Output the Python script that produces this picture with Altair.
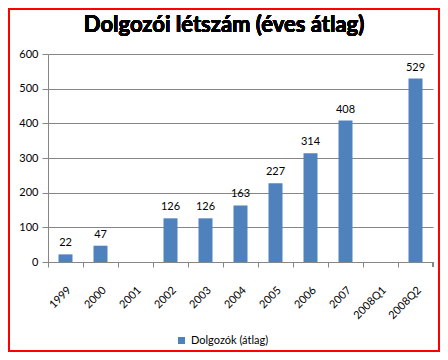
import altair as alt
import pandas as pd

categories = ["1999", "2000", "2001", "2002", "2003", "2004", "2005", "2006", "2007", "2008Q1", "2008Q2"]
values = [22, 47, None, 126, 126, 163, 227, 314, 408, None, 529]
series_name = "Dolgozók (átlag)"
title_text = "Dolgozói létszám (éves átlag)"
y_ticks = [0, 100, 200, 300, 400, 500, 600]

df = pd.DataFrame({"kat": categories, "ertek": values, "sorozat": [series_name] * len(categories)})

W, H = 385, 208
FONT = "Lato"
GRID = "#868686"

x_axis = alt.Axis(labelAngle=-45, bandPosition=0, tickSize=5, tickColor=GRID, domainColor=GRID,
                  labelFont=FONT, labelFontSize=11, labelColor="#000", labelPadding=17, grid=False)
y_axis = alt.Axis(values=y_ticks, tickSize=6, tickColor=GRID, domainColor=GRID, gridColor=GRID,
                  labelFont=FONT, labelFontSize=11, labelColor="#000", labelPadding=4,
                  labelOverlap=False)

x_enc = alt.X("kat:N", sort=categories, title=None,
              scale=alt.Scale(paddingInner=0, paddingOuter=0), axis=x_axis)
y_enc = alt.Y("ertek:Q", title=None, scale=alt.Scale(domain=[0, 600], nice=False), axis=y_axis)

base = alt.Chart(df)

bars = base.mark_bar(size=14).encode(
    x=x_enc, y=y_enc,
    color=alt.Color("sorozat:N", scale=alt.Scale(range=["#4F81BD"]),
                    legend=alt.Legend(title=None, orient="none", legendX=128, legendY=281,
                                      symbolType="square", symbolSize=49, symbolStrokeWidth=0,
                                      labelFont=FONT, labelFontSize=11, labelColor="#000")),
)

labels = base.mark_text(font=FONT, fontSize=11, color="#000", baseline="alphabetic", dy=-8).encode(
    x=x_enc, y=y_enc, text="ertek:Q",
)

title = alt.Chart(df).mark_text(font=FONT, fontSize=22, fontWeight="bold", color="#000",
                                baseline="alphabetic", align="center").encode(
    x=alt.value(176), y=alt.value(-22), text=alt.value(title_text)
)

end_tick = alt.Chart(df).mark_rule(color=GRID).encode(
    x=alt.value(W), y=alt.value(H), y2=alt.value(H + 5)
)

border = alt.Chart(df).mark_rect(filled=False, stroke="#FF0000", strokeWidth=2).encode(
    x=alt.value(-39), x2=alt.value(W + 6), y=alt.value(-45), y2=alt.value(H + 89)
)

chart = alt.layer(bars, labels, end_tick, title, border).properties(
    width=W, height=H,
    autosize=alt.AutoSizeParams(type="none"),
    padding={"left": 40, "top": 46, "right": 7, "bottom": 90},
    background="white",
).configure_view(stroke=None)

chart.save("out.html", embed_options={"renderer": "svg", "actions": False})
